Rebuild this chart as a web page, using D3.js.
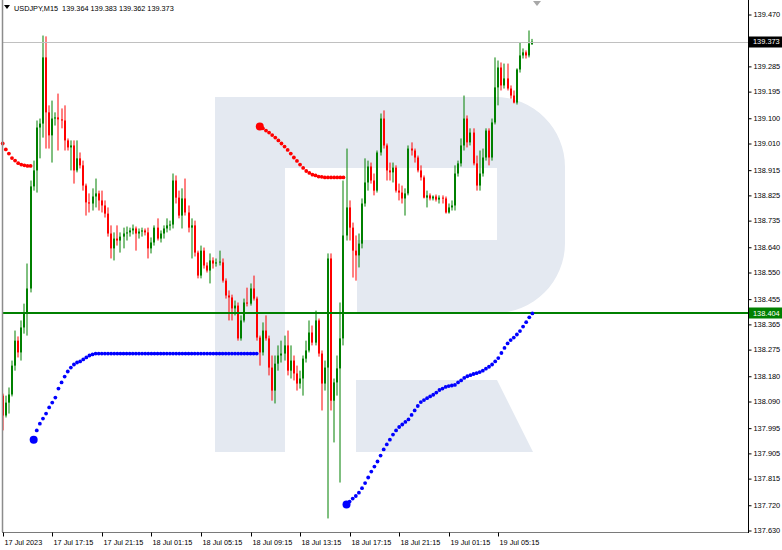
<!DOCTYPE html>
<html><head><meta charset="utf-8">
<script src="https://cdn.jsdelivr.net/npm/d3@7"></script>
<style>
body{margin:0;background:#fff;}
svg{display:block;font-family:"Liberation Sans",Arial,sans-serif;}
</style>
</head><body>
<svg id="c" width="782" height="550"></svg>
<script>
// ---------------- DATA ----------------
const symbol = "USDJPY,M15";
const timeLabels = ["17 Jul 2023","17 Jul 17:15","17 Jul 21:15","18 Jul 01:15","18 Jul 05:15","18 Jul 09:15","18 Jul 13:15","18 Jul 17:15","18 Jul 21:15","19 Jul 01:15","19 Jul 05:15"];
const timeLabelBars = [0,16,32,48,64,80,96,112,128,144,160];
const priceTicks = [139.470,139.380,139.285,139.195,139.100,139.010,138.915,138.825,138.735,138.640,138.550,138.455,138.365,138.275,138.180,138.090,137.995,137.905,137.815,137.720,137.630];
const hiddenTickLabels = [139.380]; // covered by the bid price tag
const priceMin = 137.630, priceMax = 139.470;

const open = [
138.111,138.040,138.086,138.115,138.218,138.307,138.265,138.354,138.407,138.493,
138.857,138.914,139.067,139.081,139.317,139.121,139.039,139.099,139.103,139.096,
139.092,139.021,138.996,139.003,138.914,138.957,138.932,138.860,138.800,138.796,
138.821,138.832,138.807,138.789,138.760,138.689,138.636,138.671,138.664,138.678,
138.689,138.693,138.700,138.707,138.689,138.696,138.700,138.693,138.636,138.657,
138.710,138.671,138.689,138.707,138.718,138.721,138.878,138.817,138.753,138.814,
138.764,138.710,138.718,138.621,138.539,138.628,138.575,138.557,138.593,138.582,
138.586,138.586,138.521,138.468,138.461,138.422,138.432,138.315,138.379,138.443,
138.439,138.493,138.457,138.318,138.265,138.343,138.315,138.211,138.129,138.225,
138.254,138.261,138.290,138.200,138.236,138.190,138.154,138.172,138.243,138.272,
138.336,138.300,138.379,138.261,138.154,138.211,138.600,138.093,138.158,138.208,
138.315,138.682,138.782,138.710,138.628,138.611,138.653,138.796,138.871,138.928,
138.878,138.842,138.978,139.099,139.003,138.914,138.907,138.924,138.842,138.835,
138.814,138.832,138.992,138.985,138.960,138.914,138.889,138.817,138.825,138.814,
138.821,138.810,138.817,138.814,138.764,138.782,138.789,138.903,138.939,139.003,
139.099,139.014,139.049,138.939,138.860,138.903,138.960,139.056,138.960,139.085,
139.210,139.281,139.217,139.242,139.206,139.181,139.156,139.274,139.324,139.335,
139.324,139.364];
const high = [
138.118,138.111,138.140,138.236,138.343,138.322,138.379,138.439,138.582,138.878,
138.949,139.092,139.099,139.395,139.392,139.146,139.163,139.121,139.188,139.135,
139.146,139.028,139.021,139.021,139.021,138.978,138.949,138.867,138.832,138.850,
138.885,138.842,138.842,138.807,138.782,138.718,138.693,138.718,138.693,138.710,
138.714,138.710,138.721,138.714,138.707,138.710,138.707,138.710,138.675,138.718,
138.743,138.700,138.718,138.743,138.735,138.903,138.896,138.842,138.850,138.885,
138.789,138.743,138.735,138.628,138.646,138.639,138.586,138.618,138.604,138.600,
138.628,138.600,138.529,138.486,138.471,138.450,138.443,138.397,138.457,138.496,
138.511,138.539,138.464,138.325,138.372,138.397,138.325,138.254,138.254,138.290,
138.307,138.325,138.343,138.290,138.254,138.218,138.200,138.254,138.307,138.379,
138.361,138.414,138.386,138.272,138.236,138.618,138.618,138.172,138.254,138.443,
138.878,138.992,138.807,138.728,138.682,138.689,138.814,138.957,138.949,138.942,
138.903,138.985,139.117,139.128,139.010,138.942,138.942,138.932,138.867,138.860,
138.850,139.003,139.014,138.992,138.967,138.932,138.896,138.842,138.832,138.825,
138.828,138.825,138.825,138.821,138.796,138.807,138.932,138.949,139.028,139.181,
139.110,139.064,139.064,138.967,138.985,138.992,139.064,139.064,139.099,139.317,
139.306,139.299,139.295,139.295,139.217,139.199,139.278,139.370,139.349,139.342,
139.413,139.383];
const low = [
137.987,138.033,138.047,138.108,138.200,138.247,138.236,138.332,138.325,138.479,
138.842,138.835,138.957,139.031,138.992,138.992,138.942,139.074,138.985,139.064,
138.985,138.985,138.914,138.867,138.907,138.921,138.842,138.753,138.764,138.771,
138.782,138.771,138.764,138.746,138.678,138.600,138.593,138.646,138.621,138.636,
138.664,138.678,138.686,138.628,138.671,138.678,138.682,138.600,138.618,138.646,
138.664,138.657,138.671,138.693,138.700,138.707,138.796,138.743,138.707,138.753,
138.693,138.600,138.607,138.529,138.529,138.564,138.550,138.511,138.564,138.571,
138.575,138.514,138.457,138.379,138.379,138.397,138.307,138.307,138.372,138.429,
138.432,138.450,138.307,138.218,138.254,138.307,138.183,138.093,138.083,138.200,
138.229,138.236,138.183,138.172,138.165,138.129,138.136,138.111,138.229,138.265,
138.290,138.290,138.250,138.058,138.129,137.673,138.058,137.944,138.111,137.801,
138.290,138.664,138.664,138.532,138.521,138.568,138.636,138.785,138.842,138.867,
138.825,138.835,138.967,138.992,138.878,138.878,138.871,138.835,138.807,138.796,
138.753,138.825,138.967,138.942,138.907,138.878,138.814,138.782,138.807,138.807,
138.803,138.796,138.796,138.760,138.760,138.771,138.771,138.892,138.928,138.985,
138.996,139.003,138.932,138.842,138.842,138.892,138.949,138.932,138.949,139.078,
139.146,139.199,139.206,139.199,139.170,139.153,139.149,139.263,139.313,139.313,
139.317,139.362];
const close = [
138.040,138.086,138.115,138.218,138.307,138.265,138.354,138.407,138.493,138.857,
138.914,139.067,139.081,139.317,139.121,139.039,139.099,139.103,139.096,139.092,
139.021,138.996,139.003,138.914,138.957,138.932,138.860,138.800,138.796,138.821,
138.832,138.807,138.789,138.760,138.689,138.636,138.671,138.664,138.678,138.689,
138.693,138.700,138.707,138.689,138.696,138.700,138.693,138.636,138.657,138.710,
138.671,138.689,138.707,138.718,138.721,138.878,138.817,138.753,138.814,138.764,
138.710,138.718,138.621,138.539,138.628,138.575,138.557,138.593,138.582,138.586,
138.589,138.521,138.468,138.461,138.422,138.432,138.315,138.379,138.443,138.439,
138.493,138.457,138.318,138.265,138.343,138.315,138.211,138.129,138.225,138.254,
138.261,138.290,138.200,138.236,138.190,138.154,138.172,138.243,138.272,138.336,
138.300,138.379,138.261,138.154,138.211,138.600,138.093,138.158,138.208,138.315,
138.682,138.782,138.710,138.628,138.611,138.653,138.796,138.871,138.928,138.878,
138.842,138.978,139.099,139.003,138.914,138.907,138.924,138.842,138.835,138.814,
138.832,138.992,138.985,138.960,138.914,138.889,138.817,138.825,138.814,138.821,
138.810,138.817,138.814,138.764,138.782,138.789,138.903,138.939,139.003,139.099,
139.014,139.049,138.939,138.860,138.903,138.960,139.056,138.960,139.085,139.210,
139.281,139.217,139.242,139.206,139.181,139.156,139.274,139.324,139.335,139.324,
139.367,139.373];

// trailing-stop style indicator (red = above price, blue = below price)
const redTrail1Start = 0;
const redTrail1 = [139.010,138.989,138.974,138.958,138.949,138.940,138.935,138.932,138.930,138.930];
const blueTrail1Start = 10;
const blueTrail1 = [137.954,137.987,138.011,138.029,138.047,138.069,138.086,138.104,138.136,138.158,
138.179,138.197,138.211,138.222,138.229,138.233,138.240,138.247,138.254,138.258,138.261,
138.261,138.261,138.261,138.261,138.261,138.261,138.261,138.261,138.261,138.261,
138.261,138.261,138.261,138.261,138.261,138.261,138.261,138.261,138.261,138.261,
138.261,138.261,138.261,138.261,138.261,138.261,138.261,138.261,138.261,138.261,
138.261,138.261,138.261,138.261,138.261,138.261,138.261,138.261,138.261,138.261,
138.261,138.261,138.261,138.261,138.261,138.261,138.261,138.261,138.261,138.261,
138.261,138.261];
const redTrail2Start = 83;
const redTrail2 = [139.071,139.064,139.056,139.049,139.040,139.031,139.021,139.010,138.999,138.987,
138.974,138.960,138.948,138.935,138.923,138.912,138.905,138.899,138.896,138.892,
138.891,138.889,138.889,138.889,138.889,138.889,138.889,138.889];
const blueTrail2Start = 111;
const blueTrail2 = [137.723,137.733,137.744,137.753,137.765,137.781,137.799,137.819,137.840,137.858,
137.876,137.897,137.919,137.937,137.954,137.972,137.987,137.999,138.008,138.017,
138.026,138.042,138.058,138.074,138.088,138.095,138.102,138.108,138.114,138.122,
138.131,138.136,138.142,138.145,138.147,138.149,138.158,138.165,138.174,138.180,
138.184,138.188,138.191,138.195,138.200,138.207,138.214,138.222,138.233,138.245,
138.263,138.281,138.297,138.309,138.318,138.329,138.341,138.357,138.373,138.390,
138.404];

const bidPrice = 139.373;
const levelPrice = 138.404;

// ---------------- DRAW ----------------
const svg = d3.select("#c");
const W = 782, H = 550;
const plotRight = 748, plotBottom = 532;

const xs = d3.scaleLinear().domain([0, 160]).range([2.7, 498.3]);
const ys = d3.scaleLinear().domain([priceMin, priceMax]).range([530.5, 14.5]);

svg.append("rect").attr("width", W).attr("height", H).attr("fill", "#fff");

// watermark logo
const wm = svg.append("g").attr("fill", "#e4e9f1");
wm.append("path").attr("d","M215,97 H495 A70,70 0 0 1 565,167 V243 A70,70 0 0 1 495,313 H357 V240 H497 V168 H285 V452 H215 Z");
wm.append("path").attr("d","M356,380 H497 L533,452 H356 Z");

// candles
const bars = open.map((o, i) => ({i, o, h: high[i], l: low[i], c: close[i]}));
const cg = svg.append("g");
bars.forEach(b => {
  const cx = Math.round(xs(b.i));
  const up = b.c >= b.o;
  const col = up ? "#008000" : "#ff0000";
  cg.append("line").attr("x1", cx).attr("x2", cx)
    .attr("y1", ys(b.h)).attr("y2", ys(b.l))
    .attr("stroke", col).attr("stroke-width", 1);
  const yTop = ys(Math.max(b.o, b.c)), yBot = ys(Math.min(b.o, b.c));
  cg.append("rect").attr("x", cx - 1).attr("width", 2)
    .attr("y", yTop).attr("height", Math.max(1, yBot - yTop))
    .attr("fill", col);
});

// bid line & horizontal level
svg.append("line").attr("x1", 3).attr("x2", plotRight)
  .attr("y1", Math.round(ys(bidPrice)) + 0.5).attr("y2", Math.round(ys(bidPrice)) + 0.5)
  .attr("stroke", "#c0c0c0").attr("stroke-width", 1);
svg.append("line").attr("x1", 3).attr("x2", plotRight)
  .attr("y1", Math.round(ys(levelPrice))).attr("y2", Math.round(ys(levelPrice)))
  .attr("stroke", "#008000").attr("stroke-width", 2);

// indicator dots
function drawTrail(vals, start, color, bigFirst) {
  const g = svg.append("g").attr("fill", color);
  vals.forEach((v, k) => {
    g.append("circle").attr("cx", xs(start + k)).attr("cy", ys(v))
      .attr("r", (bigFirst && k === 0) ? 4 : 1.9);
  });
}
drawTrail(redTrail1, redTrail1Start, "#ff0000", false);
drawTrail(blueTrail1, blueTrail1Start, "#0000ff", true);
drawTrail(redTrail2, redTrail2Start, "#ff0000", true);
drawTrail(blueTrail2, blueTrail2Start, "#0000ff", true);

// frame
svg.append("line").attr("x1", 2.5).attr("x2", 2.5).attr("y1", 0).attr("y2", plotBottom)
  .attr("stroke", "#8c8c8c").attr("stroke-width", 1.5);
svg.append("line").attr("x1", 2).attr("x2", plotRight).attr("y1", plotBottom + 0.5).attr("y2", plotBottom + 0.5)
  .attr("stroke", "#7a7a7a").attr("stroke-width", 1);
svg.append("line").attr("x1", plotRight + 0.5).attr("x2", plotRight + 0.5).attr("y1", 0).attr("y2", plotBottom + 1)
  .attr("stroke", "#000").attr("stroke-width", 1);

// right axis
const fmt = d3.format(".3f");
const yAxis = d3.axisRight(ys).tickValues(priceTicks)
  .tickFormat(d => hiddenTickLabels.includes(d) ? "" : fmt(d))
  .tickSize(3).tickSizeOuter(0).tickPadding(2);
const ya = svg.append("g").attr("transform", `translate(${plotRight + 0.5},0)`).call(yAxis);
ya.select(".domain").remove();
ya.selectAll("text").attr("font-family", '"Liberation Sans",Arial,sans-serif')
  .attr("font-size", 7.4).attr("fill", "#000");
ya.selectAll("line").attr("stroke", "#000");

// bottom axis
const xAxis = d3.axisBottom(xs).tickValues(timeLabelBars)
  .tickFormat((d, k) => timeLabels[k]).tickSize(4).tickSizeOuter(0).tickPadding(3);
const xa = svg.append("g").attr("transform", `translate(0,${plotBottom + 0.5})`).call(xAxis);
xa.select(".domain").remove();
xa.selectAll(".tick").attr("transform", d => `translate(${Math.round(xs(d)) + 0.5},0)`);
xa.selectAll("text").attr("text-anchor", "start").attr("x", 1)
  .attr("font-family", '"Liberation Sans",Arial,sans-serif').attr("font-size", 7.3).attr("fill", "#000");
xa.selectAll("line").attr("stroke", "#000");

// price labels on axis
function priceTag(v, bg) {
  const y = ys(v);
  svg.append("rect").attr("x", plotRight + 1).attr("y", Math.round(y) - 5.5).attr("width", 33).attr("height", 11).attr("fill", bg);
  svg.append("text").attr("x", plotRight + 5).attr("y", y).attr("dy", "0.34em")
    .attr("font-size", 7.4).attr("fill", "#fff").text(fmt(v));
}
priceTag(bidPrice, "#000");
priceTag(levelPrice, "#008000");

// chart-shift marker
svg.append("path").attr("d", "M533,1 L541,1 L537,6 Z").attr("fill", "#a8a8a8");

// header
const last = open.length - 1;
svg.append("path").attr("d", "M4,5 L10,5 L7,9 Z").attr("fill", "#000");
svg.append("text").attr("x", 14).attr("y", 10.5).attr("font-size", 7.3).attr("fill", "#000")
  .style("white-space", "pre")
  .text(`${symbol}  ${fmt(open[last])} ${fmt(high[last])} ${fmt(low[last])} ${fmt(close[last])}`);
</script>
</body></html>
